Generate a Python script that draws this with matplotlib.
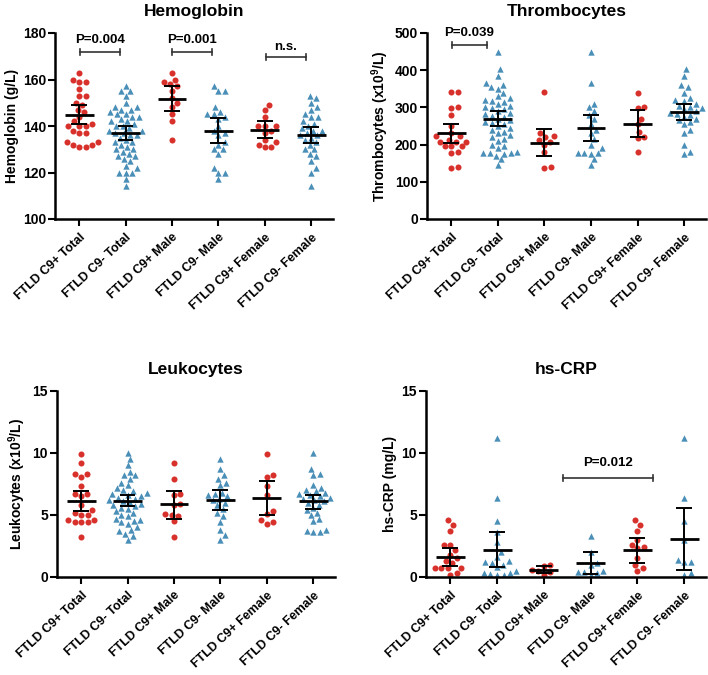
import numpy as np
import matplotlib
matplotlib.use('Agg')
import matplotlib.pyplot as plt

plt.rcParams['font.family'] = ['Liberation Sans', 'DejaVu Sans']
plt.rcParams['font.weight'] = 'bold'
plt.rcParams['mathtext.fontset'] = 'custom'
plt.rcParams['mathtext.rm'] = 'Liberation Sans:bold'
plt.rcParams['mathtext.default'] = 'rm'

groups = ['FTLD C9+ Total', 'FTLD C9- Total', 'FTLD C9+ Male',
          'FTLD C9- Male', 'FTLD C9+ Female', 'FTLD C9- Female']

# Hemoglobin (g/L)
hb = [
    [163, 160, 159, 159, 156, 153, 153, 150, 149, 147, 146, 144, 142, 141, 140, 140, 140,
     138, 137, 137, 133, 133, 132, 132, 131, 131],
    [157, 155, 155, 153, 150, 148, 148, 147, 147, 146, 145, 145, 144, 144, 143, 142, 142, 141,
     140, 140, 139, 138, 138, 137, 137, 136, 136, 135, 134, 133, 133, 132, 131, 130, 130, 129,
     128, 127, 127, 126, 125, 123, 122, 120, 120, 120, 117, 114],
    [163, 160, 159, 158, 157, 155, 152, 150, 148, 145, 142, 134],
    [157, 155, 155, 148, 146, 145, 145, 144, 143, 140, 138, 137, 136, 133, 132, 130, 130,
     128, 122, 120, 120, 117],
    [149, 147, 144, 140, 140, 140, 138, 137, 134, 133, 132, 131, 131],
    [153, 152, 150, 148, 147, 145, 144, 144, 142, 141, 140, 139, 138, 138, 137, 136, 136,
     135, 134, 133, 132, 130, 130, 128, 127, 125, 122, 120, 114],
]
hb_mean = [144.8, 136.8, 151.7, 138.0, 138.3, 136.0]
hb_lo = [140.7, 134.0, 146.4, 132.5, 135.0, 132.5]
hb_hi = [148.9, 139.8, 157.0, 143.5, 142.0, 139.6]

# Thrombocytes (x10^9/L)
thr = [
    [341, 341, 302, 298, 280, 249, 230, 222, 222, 213, 208, 208, 208, 195, 195, 195, 181, 177,
     141, 138],
    [449, 402, 385, 365, 360, 355, 350, 340, 330, 325, 320, 318, 315, 310, 305, 300, 298, 295,
     290, 285, 282, 278, 275, 270, 265, 262, 258, 255, 250, 245, 240, 235, 230, 225, 220, 215,
     210, 200, 195, 190, 180, 178, 178, 177, 176, 170, 160, 145],
    [341, 230, 222, 220, 212, 208, 200, 180, 140, 137],
    [449, 365, 310, 300, 290, 280, 270, 255, 240, 230, 215, 200, 190, 178, 178, 177, 176,
     160, 145],
    [340, 302, 298, 270, 255, 235, 220, 218, 180],
    [402, 385, 360, 355, 340, 325, 320, 318, 310, 305, 300, 298, 295, 290, 285, 282, 280,
     275, 270, 265, 260, 255, 240, 230, 200, 180, 175],
]
thr_mean = [230, 270, 205, 244, 256, 288]
thr_lo = [205, 250, 170, 209, 220, 267]
thr_hi = [256, 290, 242, 280, 293, 308]

# Leukocytes (x10^9/L)
leu = [
    [9.9, 9.2, 8.3, 8.3, 8.1, 7.3, 6.7, 6.7, 6.5, 5.8, 5.4, 5.2, 5.0, 5.0, 4.6, 4.6, 4.4,
     4.4, 4.4, 3.2],
    [10.0, 9.5, 9.0, 8.5, 8.2, 8.2, 7.9, 7.6, 7.4, 7.2, 7.0, 6.9, 6.8, 6.7, 6.6, 6.5, 6.4,
     6.3, 6.2, 6.1, 6.0, 5.9, 5.8, 5.7, 5.6, 5.5, 5.3, 5.2, 5.0, 4.9, 4.7, 4.6, 4.5, 4.4,
     4.3, 4.0, 3.8, 3.7, 3.5, 3.3, 3.0],
    [9.2, 7.9, 6.7, 6.6, 5.9, 5.8, 5.1, 5.0, 4.9, 4.5, 3.2],
    [9.5, 8.7, 8.2, 7.9, 7.6, 7.4, 6.8, 6.7, 6.6, 6.5, 6.3, 6.2, 6.0, 5.8, 5.5, 5.2, 4.9,
     4.4, 3.8, 3.4, 3.0],
    [9.9, 8.2, 8.1, 7.3, 6.6, 5.3, 5.1, 4.6, 4.4, 4.3],
    [10.0, 8.7, 8.3, 8.2, 7.4, 7.2, 7.0, 6.9, 6.8, 6.7, 6.6, 6.5, 6.4, 6.3, 6.2, 6.1, 6.0,
     5.8, 5.6, 5.4, 5.2, 5.0, 4.7, 4.5, 3.8, 3.7, 3.6, 3.6],
]
leu_mean = [6.1, 6.15, 5.85, 6.2, 6.35, 6.1]
leu_lo = [5.3, 5.7, 4.7, 5.4, 5.0, 5.5]
leu_hi = [6.9, 6.6, 6.95, 7.0, 7.75, 6.65]

# hs-CRP (mg/L)
crp = [
    [4.6, 4.2, 3.7, 2.6, 2.6, 2.2, 1.8, 1.5, 1.3, 1.1, 0.7, 0.7, 0.7, 0.7, 0.3, 0.2],
    [11.2, 6.4, 4.5, 3.6, 2.8, 2.0, 1.6, 1.3, 1.2, 1.1, 1.0, 0.8, 0.5, 0.3, 0.3, 0.25, 0.2, 0.2],
    [1.0, 0.9, 0.6, 0.5, 0.4, 0.2],
    [3.3, 2.0, 1.1, 1.0, 0.5, 0.4, 0.4, 0.3, 0.2],
    [4.6, 4.2, 3.7, 3.0, 2.6, 2.4, 2.3, 1.5, 1.0, 0.7, 0.5],
    [11.2, 6.4, 4.5, 3.0, 1.4, 1.2, 1.2, 0.3, 0.2],
]
crp_mean = [1.6, 2.2, 0.6, 1.15, 2.15, 3.05]
crp_lo = [0.9, 0.8, 0.35, 0.25, 1.15, 0.55]
crp_hi = [2.35, 3.6, 0.9, 2.05, 3.15, 5.55]

red = '#d8312b'
blue = '#4a8fb8'


def swarm(vals, scale, d):
    # simple beeswarm: place each point as close to the centre as it fits
    vals = np.asarray(vals, float)
    offs = np.zeros(len(vals))
    placed = []
    for i in np.argsort(vals):
        y = vals[i] * scale
        cands = [0.0]
        for px, py in placed:
            dy = y - py
            if abs(dy) < d:
                dx = np.sqrt(d * d - dy * dy)
                cands += [px + dx, px - dx]
        cands.sort(key=abs)
        for c in cands:
            if all((c - px) ** 2 + (y - py) ** 2 >= d * d - 1e-6 for px, py in placed):
                offs[i] = c
                break
        placed.append((offs[i], y))
    return offs


fig = plt.figure(figsize=(7.08, 6.75), dpi=100)

panels = [
    (hb, hb_mean, hb_lo, hb_hi, 'Hemoglobin', 'Hemoglobin (g/L)', (100, 180), 20,
     [55, 33, 278]),
    (thr, thr_mean, thr_lo, thr_hi, 'Thrombocytes', 'Thrombocytes (x10$^{9}$/L)', (0, 500), 100,
     [427, 33, 279]),
    (leu, leu_mean, leu_lo, leu_hi, 'Leukocytes', 'Leukocytes (x10$^{9}$/L)', (0, 15), 5,
     [57, 391, 278]),
    (crp, crp_mean, crp_lo, crp_hi, 'hs-CRP', 'hs-CRP (mg/L)', (0, 15), 5,
     [426, 391, 280]),
]

axes = []
for data, mean, lo, hi, title, ylab, ylim, step, (px, py, pw) in panels:
    ph = 186
    ax = fig.add_axes([px / 708, 1 - (py + ph) / 675, pw / 708, ph / 675])
    axes.append(ax)
    ax.set_xlim(-0.52, 5.47)
    ax.set_ylim(*ylim)
    scale = ph / (ylim[1] - ylim[0])
    for i, vals in enumerate(data):
        off = swarm(vals, scale, 6.6) / 46.4
        if i % 2 == 0:
            ax.scatter(i + off, vals, s=19, marker='o', color=red, lw=0, zorder=2)
        else:
            ax.scatter(i + off, vals, s=21, marker='^', color=blue, lw=0, zorder=2)
    x = np.arange(len(groups))
    ax.hlines(mean, x - 0.31, x + 0.31, color='black', lw=2, zorder=3)
    ax.vlines(x, lo, hi, color='black', lw=1.4, zorder=3)
    ax.hlines(lo, x - 0.17, x + 0.17, color='black', lw=1.4, zorder=3)
    ax.hlines(hi, x - 0.17, x + 0.17, color='black', lw=1.4, zorder=3)
    ax.set_title(title, fontsize=12.5, fontweight='bold', pad=12)
    ax.set_ylabel(ylab, fontsize=10, fontweight='bold', labelpad=3)
    ax.set_yticks(np.arange(ylim[0], ylim[1] + 1, step))
    ax.set_xticks(x)
    ax.set_xticklabels(groups, rotation=43, ha='right', rotation_mode='anchor',
                       fontsize=9, fontweight='bold')
    for lab in ax.get_yticklabels():
        lab.set_fontweight('bold')
    ax.tick_params(axis='both', direction='out', length=5, width=1.5, labelsize=10)
    ax.tick_params(axis='y', pad=1.5)
    ax.tick_params(axis='x', pad=4, labelsize=9)
    for s in ['top', 'right']:
        ax.spines[s].set_visible(False)
    for s in ['left', 'bottom']:
        ax.spines[s].set_linewidth(1.8)


def bracket(ax, x0, x1, y, text, tick, ty):
    ax.plot([x0, x1], [y, y], color='#333333', lw=1.2)
    ax.plot([x0, x0], [y - tick, y + tick], color='#333333', lw=1.2)
    ax.plot([x1, x1], [y - tick, y + tick], color='#333333', lw=1.2)
    ax.text((x0 + x1) / 2, ty, text, ha='center', va='center', fontsize=9.5, fontweight='bold')


bracket(axes[0], 0.02, 0.89, 172, 'P=0.004', 1.3, 177)
bracket(axes[0], 2.0, 2.86, 172, 'P=0.001', 1.3, 177)
bracket(axes[0], 4.02, 4.89, 169.5, 'n.s.', 1.3, 174)
bracket(axes[1], 0.02, 0.76, 468, 'P=0.039', 8, 500)
bracket(axes[3], 2.42, 4.34, 8.0, 'P=0.012', 0.25, 9.2)

fig.savefig('out.png', dpi=100)
